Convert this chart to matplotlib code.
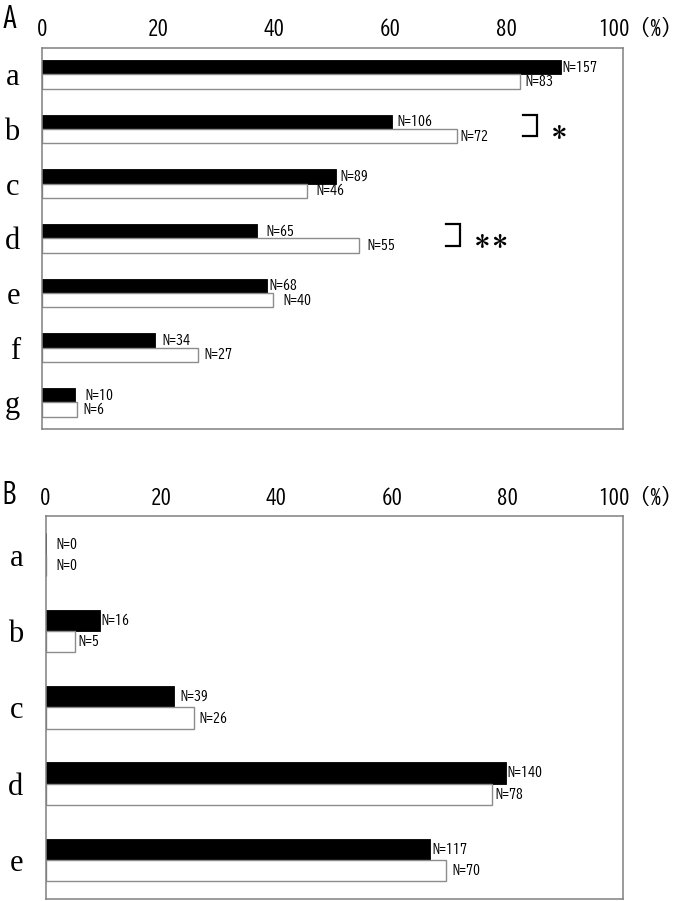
import matplotlib
matplotlib.use("Agg")
import matplotlib.pyplot as plt
import numpy as np

# ---------------- data ----------------
cats_a = ["a", "b", "c", "d", "e", "f", "g"]
black_a = [89.3, 60.3, 50.6, 37.1, 38.8, 19.5, 5.7]
white_a = [82.3, 71.4, 45.6, 54.6, 39.7, 26.9, 6.1]
nblack_a = [157, 106, 89, 65, 68, 34, 10]
nwhite_a = [83, 72, 46, 55, 40, 27, 6]

cats_b = ["a", "b", "c", "d", "e"]
black_b = [0.0, 9.4, 22.2, 79.7, 66.6]
white_b = [0.0, 5.1, 25.8, 77.4, 69.4]
nblack_b = [0, 16, 39, 140, 117]
nwhite_b = [0, 5, 26, 78, 70]

xticks = [0, 20, 40, 60, 80, 100]
xtick_labels = ["0", "20", "40", "60", "80", ""]
last_label = "100（%）"

# significance marks in panel A: (category index, label)
sig_a = [(1, "＊"), (3, "＊＊")]
sig_x_a = [82.9, 69.5]

# label gaps (pixels) after the bar ends, as in the original layout
gap_black_a = [1.4, 5.7, 5, 9.4, 2, 7.3, 10.7]
gap_white_a = [5, 3.3, 9.7, 8, 10.4, 5.7, 6]
gap_black_b = [11, 1.7, 6.3, 1.4, 2.7]
gap_white_b = [11, 3.6, 5.3, 3, 6.3]

# ---------------- fonts ----------------
GOTHIC = ["BIZ UDGothic", "DejaVu Sans"]
SERIF = ["Liberation Serif", "DejaVu Serif"]

W, H = 685, 901
fig = plt.figure(figsize=(W / 100, H / 100), dpi=100)

def px2pt(p):
    return p * 0.72

SPINE = "#808080"

def panel(rect, cats, black, white, nb, nw, gb, gw, h, ylim, tickpad):
    ax = fig.add_axes(rect)
    y = np.arange(len(cats))
    ax.barh(y - h / 2, black, height=h, color="black", edgecolor="black", linewidth=0.6)
    ax.barh(y + h / 2, white, height=h, color="white", edgecolor="#8c8c8c", linewidth=1.0)
    for i in range(len(cats)):
        ax.annotate(f"N={nb[i]}", xy=(black[i], y[i] - h / 2), xytext=(px2pt(gb[i]), 0),
                    textcoords="offset points", ha="left", va="center",
                    fontsize=10, family=GOTHIC)
        ax.annotate(f"N={nw[i]}", xy=(white[i], y[i] + h / 2), xytext=(px2pt(gw[i]), 0),
                    textcoords="offset points", ha="left", va="center",
                    fontsize=10, family=GOTHIC)
    ax.set_xlim(0, 100)
    ax.set_ylim(*ylim)
    ax.xaxis.tick_top()
    ax.set_xticks(xticks)
    ax.set_xticklabels(xtick_labels, family=GOTHIC, fontsize=15)
    ax.tick_params(axis="x", length=0, pad=tickpad)
    ax.set_yticks(y)
    ax.set_yticklabels(cats, family=SERIF, fontsize=22)
    ax.tick_params(axis="y", length=0, pad=16)
    ax.annotate(last_label, xy=(100, 1), xycoords=("data", "axes fraction"),
                xytext=(px2pt(-24.7), tickpad), textcoords="offset points",
                ha="left", va="bottom", family=GOTHIC, fontsize=15)
    for s in ax.spines.values():
        s.set_color(SPINE)
        s.set_linewidth(1.1)
    return ax

hA = 0.265
axA = panel([42 / W, 1 - 429 / H, (622.7 - 42) / W, (429 - 48.3) / H],
            cats_a, black_a, white_a, nblack_a, nwhite_a, gap_black_a, gap_white_a,
            hA, (6.488, -0.476), 8.0)

hB = 0.28
axB = panel([45.5 / W, 1 - 899 / H, (622.7 - 45.5) / W, (899 - 516) / H],
            cats_b, black_b, white_b, nblack_b, nwhite_b, gap_black_b, gap_white_b,
            hB, (4.511, -0.507), 7.0)

# significance brackets
bw = 2.4
for (idx, lab), x0 in zip(sig_a, sig_x_a):
    ytop = idx - hA
    ybot = idx + hA / 2
    axA.plot([x0, x0 + bw, x0 + bw, x0], [ytop, ytop, ybot, ybot],
             color="black", linewidth=1.6, solid_joinstyle="miter", clip_on=False)
    axA.text(x0 + bw + 2.2, idx + 0.03, lab, ha="left", va="center",
             fontsize=13.5, family=GOTHIC, fontweight="bold")

# panel letters
fig.text(3 / W, 1 - 27 / H, "A", family=GOTHIC, fontsize=20, va="baseline", ha="left")
fig.text(2 / W, 1 - 503 / H, "B", family=GOTHIC, fontsize=20, va="baseline", ha="left")

fig.savefig("out.png", dpi=100)
